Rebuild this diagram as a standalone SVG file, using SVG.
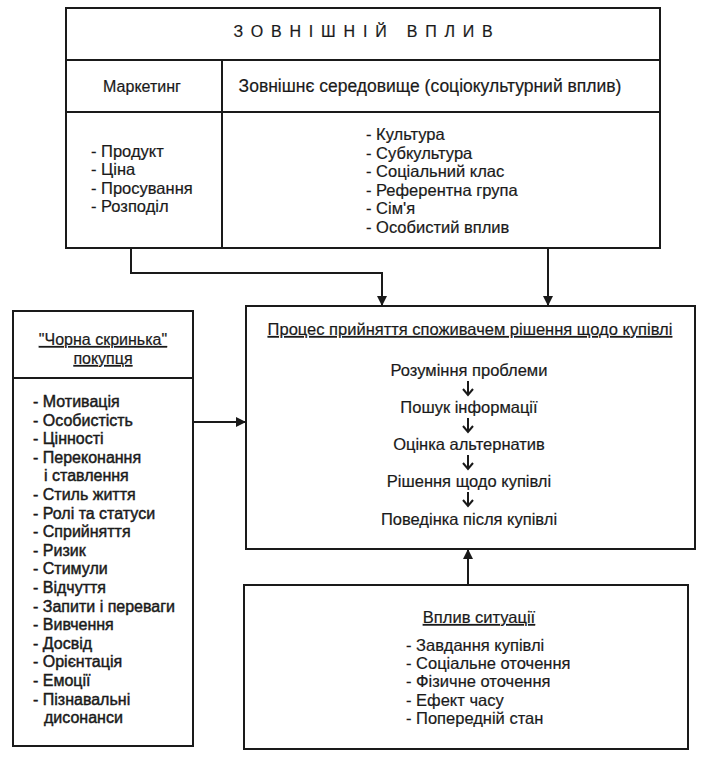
<svg xmlns="http://www.w3.org/2000/svg" width="714" height="782" viewBox="0 0 714 782">
<defs>
<style>
text{font-family:"Liberation Sans",Arial,sans-serif;font-size:16.5px;fill:#1a1a1a;stroke:#1a1a1a;stroke-width:0.2}
.l{font-size:16px;stroke-width:0.45}
.h{font-size:17.5px}
.box{fill:none;stroke:#1a1a1a;stroke-width:2}
.ln{fill:none;stroke:#1a1a1a;stroke-width:2}
.c{text-anchor:middle}
.u{text-decoration:underline}
.con{fill:none;stroke:#1a1a1a;stroke-width:2}
.sm{fill:none;stroke:#1a1a1a;stroke-width:2}
</style>
<marker id="ah" viewBox="0 0 10 10" refX="10" refY="5" markerWidth="10" markerHeight="10" markerUnits="userSpaceOnUse" orient="auto">
<path d="M0,0 L10,5 L0,10 Z" fill="#1a1a1a"/>
</marker>
</defs>
<rect width="714" height="782" fill="#ffffff"/>

<g id="external">
<rect class="box" x="66" y="8" width="594" height="240"/>
<line class="ln" x1="66" y1="60" x2="660" y2="60"/>
<line class="ln" x1="66" y1="112" x2="660" y2="112"/>
<line class="ln" x1="222" y1="60" x2="222" y2="248"/>
<text class="c" x="367" y="37" style="font-size:16px;letter-spacing:7.8px">ЗОВНІШНІЙ ВПЛИВ</text>
<text class="c l" x="142" y="92" style="stroke-width:0.2">Маркетинг</text>
<text class="c h" x="430" y="92">Зовнішнє середовище (соціокультурний вплив)</text>
<text x="91" y="157">- Продукт</text>
<text x="91" y="175">- Ціна</text>
<text x="91" y="194">- Просування</text>
<text x="91" y="212">- Розподіл</text>
<text x="366" y="140">- Культура</text>
<text x="366" y="159">- Субкультура</text>
<text x="366" y="177">- Соціальний клас</text>
<text x="366" y="196">- Референтна група</text>
<text x="366" y="214">- Сім'я</text>
<text x="366" y="233">- Особистий вплив</text>
</g>

<g id="blackbox">
<rect class="box" x="13" y="311" width="180" height="435"/>
<line class="ln" x1="13" y1="378" x2="193" y2="378"/>
<text class="c u l" x="103" y="345" style="stroke-width:0.2">"Чорна скринька"</text>
<text class="c u l" x="103" y="364" style="stroke-width:0.2">покупця</text>
<text class="l" x="33" y="407">- Мотивація</text>
<text class="l" x="33" y="425.6">- Особистість</text>
<text class="l" x="33" y="444.2">- Цінності</text>
<text class="l" x="33" y="462.8">- Переконання</text>
<text class="l" x="44" y="481.4">і ставлення</text>
<text class="l" x="33" y="500">- Стиль життя</text>
<text class="l" x="33" y="518.6">- Ролі та статуси</text>
<text class="l" x="33" y="537.2">- Сприйняття</text>
<text class="l" x="33" y="555.8">- Ризик</text>
<text class="l" x="33" y="574.4">- Стимули</text>
<text class="l" x="33" y="593">- Відчуття</text>
<text class="l" x="33" y="611.6">- Запити і переваги</text>
<text class="l" x="33" y="630.2">- Вивчення</text>
<text class="l" x="33" y="648.8">- Досвід</text>
<text class="l" x="33" y="667.4">- Орієнтація</text>
<text class="l" x="33" y="686">- Емоції</text>
<text class="l" x="33" y="704.6">- Пізнавальні</text>
<text class="l" x="44" y="723.2">дисонанси</text>
</g>

<g id="process">
<rect class="box" x="246" y="306" width="449" height="243"/>
<text class="c u" x="470" y="335">Процес прийняття споживачем рішення щодо купівлі</text>
<text class="c" x="469" y="376">Розуміння проблеми</text>
<text class="c" x="469" y="413">Пошук інформації</text>
<text class="c" x="469" y="450">Оцінка альтернатив</text>
<text class="c" x="469" y="487">Рішення щодо купівлі</text>
<text class="c" x="469" y="525">Поведінка після купівлі</text>
<path class="sm" d="M468,381 V395 M463,389 L468,395 L473,389"/>
<path class="sm" d="M468,418 V432 M463,426 L468,432 L473,426"/>
<path class="sm" d="M468,455 V469 M463,463 L468,469 L473,463"/>
<path class="sm" d="M468,492 V506 M463,500 L468,506 L473,500"/>
</g>

<g id="situation">
<rect class="box" x="244" y="585" width="444" height="164"/>
<text class="c u" x="479" y="623">Вплив ситуації</text>
<text x="406" y="651">- Завдання купівлі</text>
<text x="406" y="669">- Соціальне оточення</text>
<text x="406" y="687">- Фізичне оточення</text>
<text x="406" y="706">- Ефект часу</text>
<text x="406" y="724">- Попередній стан</text>
</g>

<g id="connectors">
<path class="con" d="M131,248 V273 H382 V306" marker-end="url(#ah)"/>
<path class="con" d="M548,248 V306" marker-end="url(#ah)"/>
<path class="con" d="M193,422 H246" marker-end="url(#ah)"/>
<path class="con" d="M468,585 V549" marker-end="url(#ah)"/>
</g>
</svg>
